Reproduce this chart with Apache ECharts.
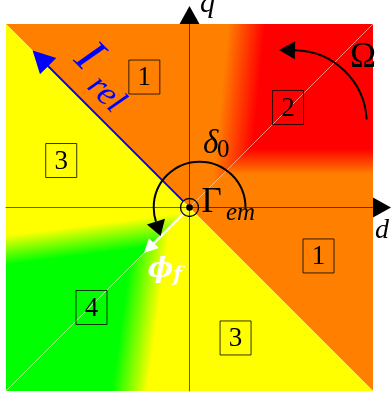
<!DOCTYPE html>
<html>
<head>
<meta charset="utf-8">
<script src="https://cdn.jsdelivr.net/npm/echarts@6/dist/echarts.min.js"></script>
<style>
html, body { margin: 0; padding: 0; background: #fff; }
#chart { width: 391px; height: 396px; }
</style>
</head>
<body>
<div id="chart"></div>
<script>
// d-q plane, both axes from -1 to 1
var orangeHalf = [[-1, 1], [1, 1], [1, -1]];
var yellowHalf = [[-1, 1], [-1, -1], [1, -1]];
var redUpper = [[0, 0], [0, 1], [1, 1]];
var redLower = [[0, 0], [1, 1], [1, 0]];
var greenUpper = [[0, 0], [-1, 0], [-1, -1]];
var greenLower = [[0, 0], [-1, -1], [0, -1]];
// where the shading turns: [from, to] in (d, q)
var redUpperRamp = [[0.19, 0.79], [0.39, 0.77]];
var redLowerRamp = [[0.6, 0.18], [0.6, 0.32]];
var greenUpperRamp = [[-0.71, -0.115], [-0.69, -0.273]];
var greenLowerRamp = [[-0.39, -0.757], [-0.2, -0.783]];

// sector boxes
var sectorNames = ['1', '2', '3', '4', '1', '3'];
var sectorD = [-0.246, 0.537, -0.699, -0.534, 0.703, 0.251];
var sectorQ = [0.711, 0.545, 0.256, -0.545, -0.264, -0.711];

// vectors from the origin
var iRelTip = [-0.855, 0.855];
var phiTip = [-0.248, -0.248];

// arcs: centre d, centre q, radius, start deg, end deg
var deltaArc = [0.055, 0, 0.25, 0, 198];
var omegaArc = [0.568, 0.459, 0.398, 3, 89];

var ORANGE = '#ff8000', YELLOW = '#ffff00', RED = '#ff0000', GREEN = '#00ff00';
var SERIF = '"Liberation Serif", "Times New Roman", serif';
var BOLDSERIF = '"DejaVu Serif", serif';

var chart = echarts.init(document.getElementById('chart'));

function ramp(api, r, c0, c1) {
  var a = api.coord(r[0]), b = api.coord(r[1]);
  return new echarts.graphic.LinearGradient(a[0], a[1], b[0], b[1],
    [{ offset: 0, color: c0 }, { offset: 1, color: c1 }], true);
}

function patch(api, corners, fill) {
  return {
    type: 'polygon',
    shape: { points: corners.map(function (c) { return api.coord(c); }) },
    style: { fill: fill }
  };
}

function renderPlane(params, api) {
  var a = api.coord([-1, -1]), b = api.coord([1, 1]);
  return {
    type: 'group',
    children: [
      patch(api, orangeHalf, ORANGE),
      patch(api, yellowHalf, YELLOW),
      patch(api, redUpper, ramp(api, redUpperRamp, ORANGE, RED)),
      patch(api, redLower, ramp(api, redLowerRamp, ORANGE, RED)),
      patch(api, greenUpper, ramp(api, greenUpperRamp, YELLOW, GREEN)),
      patch(api, greenLower, ramp(api, greenLowerRamp, GREEN, YELLOW)),
      {
        type: 'line',
        shape: { x1: a[0], y1: a[1], x2: b[0], y2: b[1] },
        style: { stroke: 'rgba(255,255,255,0.6)', lineWidth: 0.8 }
      }
    ]
  };
}

function unit(a, b) {
  var dx = b[0] - a[0], dy = b[1] - a[1], l = Math.sqrt(dx * dx + dy * dy);
  return [dx / l, dy / l];
}

function arrowHead(tip, dir, len, wid, color) {
  var bx = tip[0] - dir[0] * len, by = tip[1] - dir[1] * len;
  var nx = -dir[1] * wid / 2, ny = dir[0] * wid / 2;
  return {
    type: 'polygon',
    shape: { points: [[bx + nx, by + ny], tip, [bx - nx, by - ny]] },
    style: { fill: color }
  };
}

function vector(api, tipVal, color, width, len, wid) {
  var o = api.coord([0, 0]), t = api.coord(tipVal), u = unit(o, t);
  return [
    {
      type: 'line',
      shape: { x1: o[0] + u[0] * 9, y1: o[1] + u[1] * 9, x2: t[0] - u[0] * (len - 2), y2: t[1] - u[1] * (len - 2) },
      style: { stroke: color, lineWidth: width }
    },
    arrowHead(t, u, len, wid, color)
  ];
}

function arcArrow(api, a, len, wid) {
  var c = api.coord([a[0], a[1]]), r = api.size([a[2], 0])[0];
  var s = a[3] * Math.PI / 180, e = a[4] * Math.PI / 180;
  var base = [c[0] + r * Math.cos(e), c[1] - r * Math.sin(e)];
  var dir = [-Math.sin(e), -Math.cos(e)];
  var tip = [base[0] + dir[0] * len, base[1] + dir[1] * len];
  return [
    {
      type: 'arc',
      shape: { cx: c[0], cy: c[1], r: r, startAngle: -s, endAngle: -e, clockwise: false },
      style: { stroke: '#000', lineWidth: 2, fill: 'none' }
    },
    arrowHead(tip, dir, len, wid, '#000')
  ];
}

// text anchored at its left end on the baseline
function label(api, str, at, size, italic, bold, color, rot, family) {
  var p = api.coord(at);
  rot = rot || 0;
  var k = 0.34 * size;
  return {
    type: 'text',
    x: p[0] - Math.sin(rot) * k,
    y: p[1] - Math.cos(rot) * k,
    rotation: rot,
    style: {
      text: str,
      fill: color || '#000',
      fontSize: size,
      fontFamily: family || SERIF,
      fontStyle: italic ? 'italic' : 'normal',
      fontWeight: bold ? 'bold' : 'normal',
      align: 'left',
      verticalAlign: 'middle'
    }
  };
}

function renderMarks(params, api) {
  var kids = [];
  var o = api.coord([0, 0]);
  kids = kids.concat(vector(api, iRelTip, '#0000ff', 1.8, 22, 23));
  kids = kids.concat(vector(api, phiTip, '#ffffff', 2.5, 14, 14));
  kids = kids.concat(arcArrow(api, deltaArc, 15, 19));
  kids = kids.concat(arcArrow(api, omegaArc, 16, 18));
  kids.push({ type: 'circle', shape: { cx: o[0], cy: o[1], r: 9 }, style: { stroke: '#000', lineWidth: 1.3, fill: 'none' } });
  kids.push({ type: 'circle', shape: { cx: o[0], cy: o[1], r: 3.3 }, style: { fill: '#000' } });

  for (var i = 0; i < sectorNames.length; i++) {
    var c = api.coord([sectorD[i], sectorQ[i]]);
    kids.push({
      type: 'rect',
      shape: { x: c[0] - 15.5, y: c[1] - 17, width: 31, height: 34 },
      style: { stroke: 'rgba(0,0,0,0.8)', lineWidth: 1, fill: 'none' }
    });
    kids.push({
      type: 'text', x: c[0], y: c[1] + 1,
      style: { text: sectorNames[i], fill: '#000', fontSize: 27, fontFamily: SERIF, align: 'center', verticalAlign: 'middle' }
    });
  }

  kids.push(label(api, 'q', [0.057, 1.054], 30, true));
  kids.push(label(api, 'd', [1.011, -0.177], 28, true));
  kids.push(label(api, 'Γ', [0.065, -0.041], 35));
  kids.push(label(api, 'em', [0.199, -0.079], 25, true));
  kids.push(label(api, 'δ', [0.074, 0.281], 33, true));
  kids.push(label(api, '0', [0.150, 0.264], 25));
  kids.push(label(api, 'Ω', [0.875, 0.749], 35));
  kids.push(label(api, '\u03D5', [-0.228, -0.392], 27, true, true, '#ffffff', 0, BOLDSERIF));
  kids.push(label(api, 'f', [-0.090, -0.411], 21, true, true, '#ffffff', 0, BOLDSERIF));
  kids.push(label(api, 'I', [-0.651, 0.786], 50, true, false, '#0000ff', -Math.PI / 4));
  kids.push(label(api, 'rel', [-0.574, 0.643], 35, true, false, '#0000ff', -Math.PI / 4));

  return { type: 'group', children: kids };
}

function axisOf() {
  return {
    type: 'value', min: -1, max: 1, z: 3,
    axisLine: {
      onZero: true,
      lineStyle: { color: '#000', width: 1, opacity: 0.6 },
      symbol: ['none', 'triangle'],
      symbolSize: [20, 18],
      symbolOffset: [0, 9]
    },
    axisTick: { show: false },
    axisLabel: { show: false },
    splitLine: { show: false }
  };
}

chart.setOption({
  animation: false,
  grid: { left: 6, top: 24, width: 367, height: 367 },
  xAxis: axisOf(),
  yAxis: axisOf(),
  series: [
    { type: 'custom', coordinateSystem: 'cartesian2d', z: 1, silent: true, data: [[0, 0]], renderItem: renderPlane },
    { type: 'custom', coordinateSystem: 'cartesian2d', z: 5, silent: true, data: [[0, 0]], renderItem: renderMarks }
  ]
});
</script>
</body>
</html>
